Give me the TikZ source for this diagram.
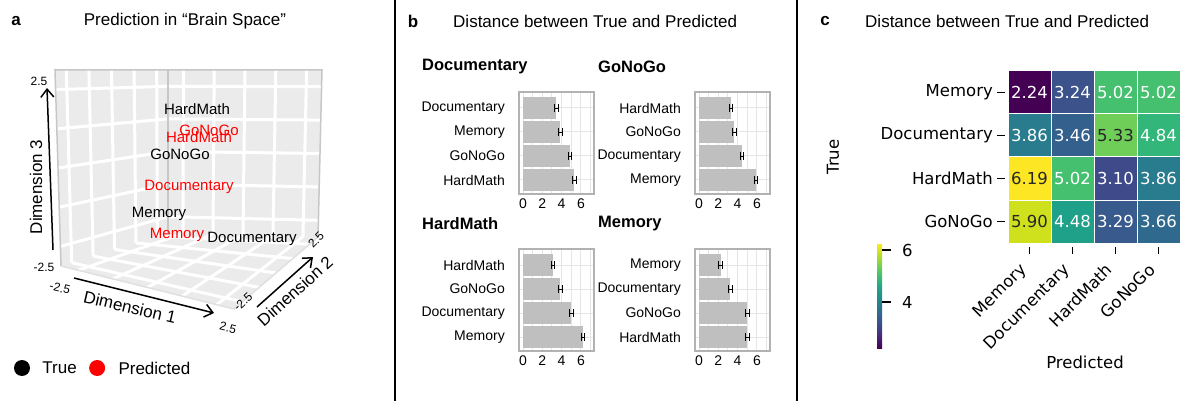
\documentclass[tikz,border=0pt]{standalone}
\usepackage{fontspec}
\setmainfont{Liberation Sans}
\newfontfamily\hmfont{DejaVu Sans}
\usetikzlibrary{arrows.meta,positioning,calc}

% viridis stops, 0 to 1 in steps of 0.1
\definecolor{vir0}{HTML}{440154}
\definecolor{vir1}{HTML}{482475}
\definecolor{vir2}{HTML}{414487}
\definecolor{vir3}{HTML}{355F8D}
\definecolor{vir4}{HTML}{2A788E}
\definecolor{vir5}{HTML}{21918C}
\definecolor{vir6}{HTML}{22A884}
\definecolor{vir7}{HTML}{44BF70}
\definecolor{vir8}{HTML}{7AD151}
\definecolor{vir9}{HTML}{BDDF26}
\definecolor{vir10}{HTML}{FDE725}
% heatmap cells
\definecolor{hmA}{HTML}{440154}
\definecolor{hmB}{HTML}{3B528B}
\definecolor{hmC}{HTML}{45C06F}
\definecolor{hmD}{HTML}{297B8E}
\definecolor{hmE}{HTML}{34608D}
\definecolor{hmF}{HTML}{6FCE58}
\definecolor{hmG}{HTML}{32B67A}
\definecolor{hmH}{HTML}{FDE725}
\definecolor{hmI}{HTML}{3E4A89}
\definecolor{hmJ}{HTML}{CFE11C}
\definecolor{hmK}{HTML}{1FA088}
\definecolor{hmL}{HTML}{395A8C}
\definecolor{hmM}{HTML}{30698E}
\definecolor{hmdark}{HTML}{262626}

\pgfdeclareverticalshading{viridisbar}{100bp}{color(0bp)=(vir0); color(25bp)=(vir0);
  color(30bp)=(vir1); color(35bp)=(vir2); color(40bp)=(vir3); color(45bp)=(vir4);
  color(50bp)=(vir5); color(55bp)=(vir6); color(60bp)=(vir7); color(65bp)=(vir8);
  color(70bp)=(vir9); color(75bp)=(vir10); color(100bp)=(vir10)}

% one small bar chart: left, top, title, label/value rows
\newcommand\distplot[4]{%
  \node[plottitle, anchor=west] (#3-title) at (#1-97,#2-25) {#3};
  \foreach \k in {0,...,7}
    \draw[gridln] (#1+4+\k*9.65,#2) -- (#1+4+\k*9.65,#2+102);
  \foreach \lab/\val [count=\i] in {#4} {
    \pgfmathsetmacro\yc{#2+16+(\i-1)*24}
    \draw[gridln] (#1,\yc) -- (#1+75,\yc);
    \fill[bar] (#1+4,\yc-11) rectangle (#1+4+\val*9.65,\yc+11);
    \draw[errbar] (#1+2.3+\val*9.65,\yc-4) -- ++(0,8)
                  (#1+5.7+\val*9.65,\yc-4) -- ++(0,8)
                  (#1+2.3+\val*9.65,\yc) -- ++(3.4,0);
    \node[catlab, anchor=east] (#3-lab\i) at (#1-14,\yc) {\lab};
  }
  \draw[frame] (#1,#2) rectangle (#1+75,#2+102);
  \foreach \k in {0,2,4,6}
    \node[catlab] (#3-tick\k) at (#1+4+\k*9.65,#2+112) {\k};
}

\begin{document}
\begin{tikzpicture}[x=1pt, y=-1pt, inner sep=0pt,
    panel/.style={font=\fontsize{17}{20}\selectfont\bfseries},
    ttl/.style={font=\fontsize{17}{20}\selectfont},
    wall/.style={fill=black!8},
    wgrid/.style={white, line width=3pt},
    edge/.style={black!22, line width=1.5pt},
    axarr/.style={line width=1.5pt, -{Straight Barb[length=8pt,width=13pt]}},
    axlab/.style={font=\fontsize{17}{20}\selectfont},
    axtick/.style={font=\fontsize{12}{14}\selectfont},
    pt/.style={font=\fontsize{15}{18}\selectfont},
    dot/.style={circle, minimum size=16pt},
    plottitle/.style={font=\fontsize{16.5}{19}\selectfont\bfseries},
    catlab/.style={font=\fontsize{14}{17}\selectfont},
    gridln/.style={black!10, line width=1pt},
    bar/.style={fill=black!25},
    errbar/.style={black, line width=0.9pt},
    frame/.style={draw=black!30, line width=1.5pt},
    hmcell/.style={draw=white, line width=1pt, minimum size=43pt,
                   font=\hmfont\fontsize{16.5}{19}\selectfont},
    hmlab/.style={font=\hmfont\fontsize{16.5}{19}\selectfont},
    tickmk/.style={black, line width=1.8pt}
  ]
  \useasboundingbox (0,0) rectangle (1181,401);
  \fill[white] (0,0) rectangle (1181,401);

  % panel separators
  \draw[line width=2pt] (395,0) -- (395,401);
  \draw[line width=2pt] (797,0) -- (797,401);

  % ---- a: 3d scatter
  \node[panel] (pa) at (16,21) {a};
  \node[ttl] (pa-title) at (185,21) {Prediction in “Brain Space”};

  \coordinate (LT) at (55,70);
  \coordinate (CT) at (168,70);
  \coordinate (RT) at (322,70);
  \coordinate (LB) at (61,266);
  \coordinate (CB) at (168,233);
  \coordinate (RB) at (318,237);
  \coordinate (FC) at (234,309);

  \fill[wall] (LT) -- (CT) -- (CB) -- (LB) -- cycle;
  \fill[wall] (CT) -- (RT) -- (RB) -- (CB) -- cycle;
  \fill[wall] (LB) -- (CB) -- (RB) -- (FC) -- cycle;
  \foreach \f in {0.1,0.3,0.5,0.7,0.9} {
    \draw[wgrid] ($(LT)!\f!(LB)$) -- ($(CT)!\f!(CB)$);
    \draw[wgrid] ($(CT)!\f!(CB)$) -- ($(RT)!\f!(RB)$);
    \draw[wgrid] ($(LT)!\f!(CT)$) -- ($(LB)!\f!(CB)$);
    \draw[wgrid] ($(CT)!\f!(RT)$) -- ($(CB)!\f!(RB)$);
    \draw[wgrid] ($(LB)!\f!(FC)$) -- ($(CB)!\f!(RB)$);
    \draw[wgrid] ($(LB)!\f!(CB)$) -- ($(FC)!\f!(RB)$);
  }
  \draw[edge] (LB) -- (LT) -- (RT) -- (RB);
  \draw[edge] (CT) -- (CB);
  \draw[edge, black!12] (LB) -- (FC) -- (RB);

  \node[pt] (tHM) at (197,109) {HardMath};
  \node[pt, text=red] (pGN) at (209,130) {GoNoGo};
  \node[pt, text=red] (pHM) at (199,137) {HardMath};
  \node[pt] (tGN) at (180,154) {GoNoGo};
  \node[pt, text=red] (pDoc) at (189,187) {Documentary};
  \node[pt] (tMem) at (159,214) {Memory};
  \node[pt, text=red] (pMem) at (177,235) {Memory};
  \node[pt] (tDoc) at (252,239) {Documentary};

  % axes
  \coordinate (d3a) at (53,250);
  \coordinate (d3b) at (47,88);
  \draw[axarr] (d3a) -- (d3b);
  \node[axlab, rotate=90] (d3lab) at (36,187) {Dimension 3};
  \node[axtick] (d3hi) at (39,81) {2.5};
  \node[axtick] (d3lo) at (44,267) {-2.5};

  \coordinate (d1a) at (74,278);
  \coordinate (d1b) at (214,313);
  \draw[axarr] (d1a) -- (d1b);
  \node[axlab, rotate=-13] (d1lab) at (130,307) {Dimension 1};
  \node[axtick, rotate=-14] (d1lo) at (60,288) {-2.5};
  \node[axtick, rotate=-14] (d1hi) at (228,328) {2.5};

  \coordinate (d2a) at (257,307);
  \coordinate (d2b) at (313,257);
  \draw[axarr] (d2a) -- (d2b);
  \node[axlab, rotate=42] (d2lab) at (295,291) {Dimension 2};
  \node[axtick, rotate=42] (d2lo) at (243,302) {-2.5};
  \node[axtick, rotate=45] (d2hi) at (316,240) {2.5};

  % legend
  \node[dot, fill=black] (truedot) at (22,368) {};
  \node[ttl, right=12pt of truedot] (truetxt) {True};
  \node[dot, fill=red, right=12pt of truetxt] (preddot) {};
  \node[ttl, right=13pt of preddot] (predtxt) {Predicted};

  % ---- b: distance bars
  \node[panel] (pb) at (413,21) {b};
  \node[ttl, anchor=west] (pb-title) at (453,21) {Distance between True and Predicted};
  \distplot{519}{92}{Documentary}{Documentary/3.46,Memory/3.86,GoNoGo/4.84,HardMath/5.33}
  \distplot{695}{92}{GoNoGo}{HardMath/3.29,GoNoGo/3.66,Documentary/4.48,Memory/5.90}
  \distplot{519}{249}{HardMath}{HardMath/3.10,GoNoGo/3.86,Documentary/5.02,Memory/6.19}
  \distplot{695}{249}{Memory}{Memory/2.24,Documentary/3.24,GoNoGo/5.02,HardMath/5.02}

  % ---- c: heatmap
  \node[panel] (pc) at (825,21) {c};
  \node[ttl, anchor=west] (pc-title) at (865,21) {Distance between True and Predicted};

  \foreach \r/\c/\v/\cc/\tc in {
      0/0/2.24/hmA/white, 0/1/3.24/hmB/white, 0/2/5.02/hmC/white, 0/3/5.02/hmC/white,
      1/0/3.86/hmD/white, 1/1/3.46/hmE/white, 1/2/5.33/hmF/hmdark, 1/3/4.84/hmG/white,
      2/0/6.19/hmH/hmdark, 2/1/5.02/hmC/white, 2/2/3.10/hmI/white, 2/3/3.86/hmD/white,
      3/0/5.90/hmJ/hmdark, 3/1/4.48/hmK/white, 3/2/3.29/hmL/white, 3/3/3.66/hmM/white}
    \node[hmcell, fill=\cc, text=\tc] (cell\r\c) at (1029.5+\c*43,92.5+\r*43) {\v};

  \foreach \name [count=\r from 0] in {Memory,Documentary,HardMath,GoNoGo} {
    \node[hmlab, anchor=east] (row\r) at (993,92.5+\r*43) {\name};
    \draw[tickmk] (997,92.5+\r*43) -- (1005,92.5+\r*43);
    \draw[tickmk] (1029.5+\r*43,247) -- (1029.5+\r*43,254);
    \node[hmlab, rotate=45, anchor=north east] (col\r) at (1018.5+\r*43,262) {\name};
  }
  \node[hmlab, rotate=90] (truelab) at (833,157) {True};
  \node[hmlab] (predlab) at (1085,362) {Predicted};

  % colour bar
  \shade[shading=viridisbar] (877,244) rectangle (882,348);
  \draw[tickmk] (882,250) -- (891,250);
  \draw[tickmk] (882,302) -- (891,302);
  \node[hmlab, anchor=west] (cb6) at (902,250) {6};
  \node[hmlab, anchor=west] (cb4) at (902,302) {4};
\end{tikzpicture}
\end{document}
